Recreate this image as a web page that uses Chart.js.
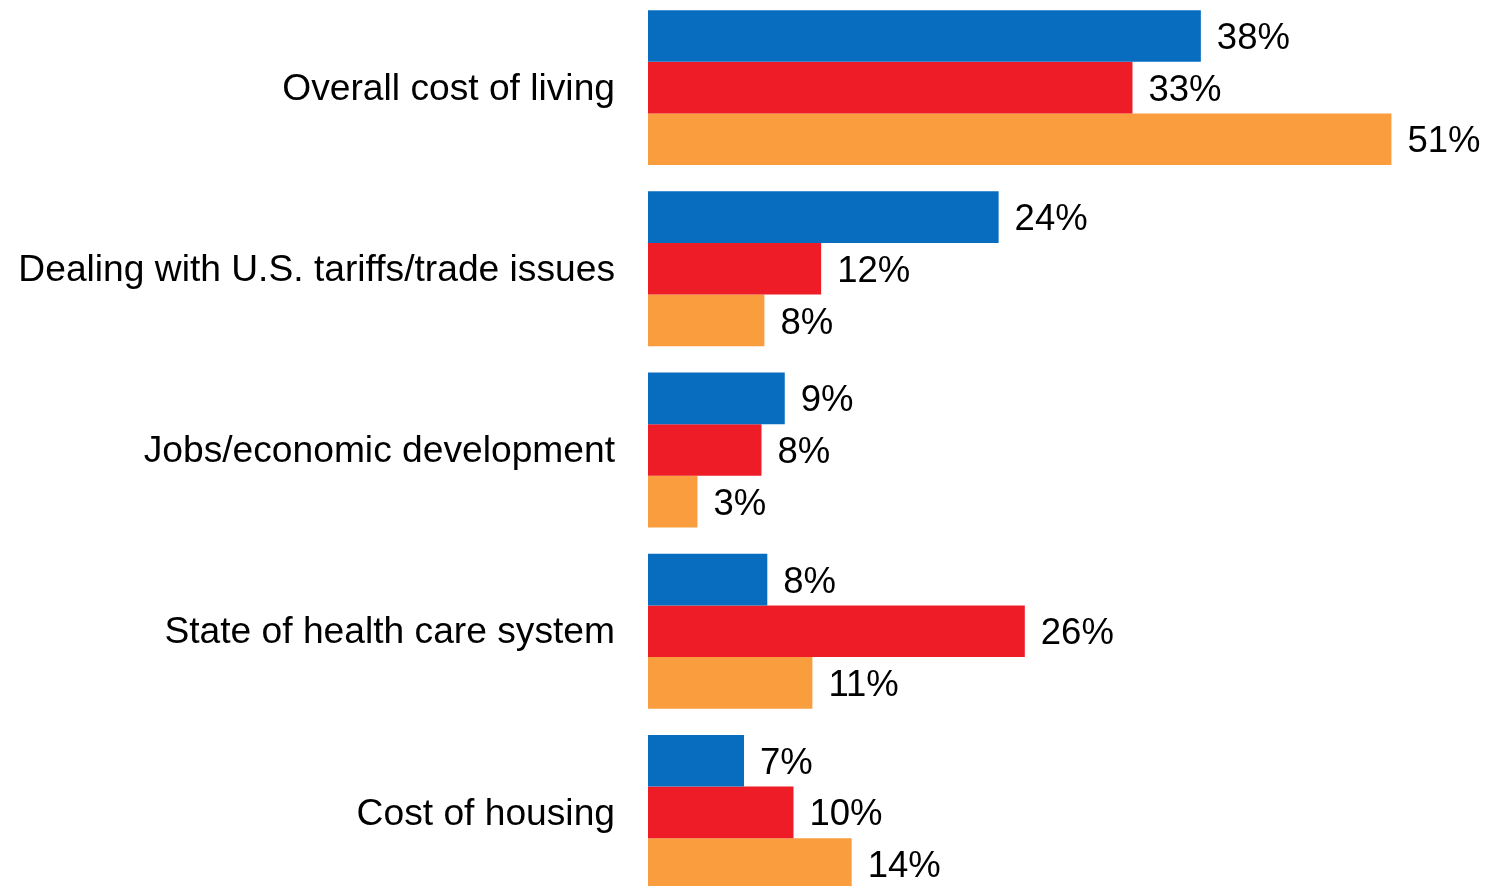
<!DOCTYPE html>
<html>
<head>
<meta charset="utf-8">
<script src="https://cdn.jsdelivr.net/npm/chart.js@4"></script>
<style>
  html, body { margin: 0; padding: 0; background: #ffffff; overflow: hidden; }
  #wrap { position: absolute; left: 0; top: -3px; width: 1486px; height: 906px; }
</style>
</head>
<body>
<div id="wrap"><canvas id="grafico"></canvas></div>
<script>
/* ================= DADOS ================= */

const categorias = [
  "Overall cost of living",
  "Dealing with U.S. tariffs/trade issues",
  "Jobs/economic development",
  "State of health care system",
  "Cost of housing"
];

const serieAzul     = [38.0, 24.1, 9.4, 8.2, 6.6];
const serieVermelha = [33.3, 11.9, 7.8, 25.9, 10.0];
const serieLaranja  = [51.1, 8.0, 3.4, 11.3, 14.0];

const cores = ["#086cbf", "#ed1c26", "#f99d3f"];

const fonte = "'Liberation Sans', Arial, sans-serif";

/* ================= RÓTULOS ================= */

const rotulosBarras = {
  id: "rotulosBarras",
  afterDatasetsDraw(chart) {
    const ctx = chart.ctx;
    ctx.save();
    ctx.font = "36.5px " + fonte;
    ctx.fillStyle = "#000000";
    ctx.textAlign = "left";
    ctx.textBaseline = "middle";
    chart.data.datasets.forEach((ds, i) => {
      chart.getDatasetMeta(i).data.forEach((bar, j) => {
        ctx.fillText(Math.round(ds.data[j]) + "%", bar.x + 16, bar.y + 3);
      });
    });
    ctx.restore();
  }
};

/* ================= GRÁFICO ================= */

new Chart(document.getElementById("grafico"), {
  type: "bar",
  data: {
    labels: categorias,
    datasets: [
      { data: serieAzul, backgroundColor: cores[0] },
      { data: serieVermelha, backgroundColor: cores[1] },
      { data: serieLaranja, backgroundColor: cores[2] }
    ]
  },
  options: {
    indexAxis: "y",
    responsive: true,
    maintainAspectRatio: false,
    animation: false,
    layout: { padding: 0 },
    datasets: {
      bar: { barPercentage: 1, categoryPercentage: 0.855 }
    },
    scales: {
      x: { display: false, min: 0, max: 57.6 },
      y: {
        grid: { display: false, drawTicks: false },
        border: { display: false },
        ticks: {
          padding: 33,
          labelOffset: 2,
          color: "#000000",
          font: { family: fonte, size: 37.2 }
        },
        afterFit(scale) {
          scale.width = 648;
          scale.paddingTop = 0;
          scale.paddingBottom = 0;
        }
      }
    },
    plugins: {
      legend: { display: false },
      tooltip: { enabled: false }
    }
  },
  plugins: [rotulosBarras]
});
</script>
</body>
</html>
